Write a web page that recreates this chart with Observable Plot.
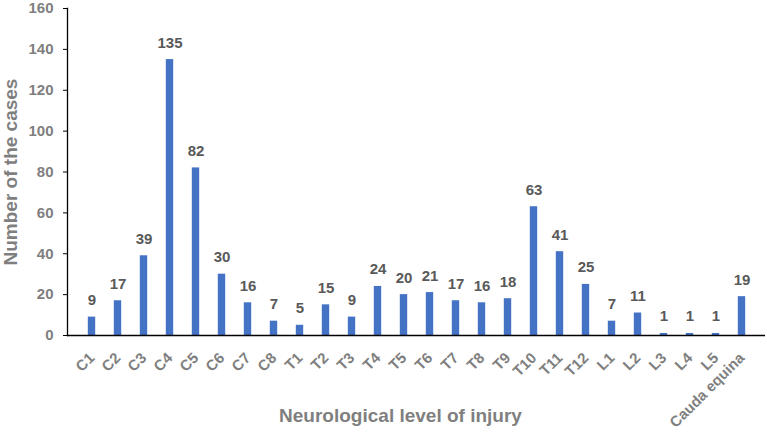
<!DOCTYPE html>
<html>
<head>
<meta charset="utf-8">
<script src="https://cdn.jsdelivr.net/npm/d3@7"></script>
<script src="https://cdn.jsdelivr.net/npm/@observablehq/plot@0.6"></script>
<style>
  html, body { margin: 0; padding: 0; background: #fff; }
</style>
</head>
<body>
<div id="chart"></div>
<script>
const levels = ["C1","C2","C3","C4","C5","C6","C7","C8","T1","T2","T3","T4","T5","T6","T7","T8","T9","T10","T11","T12","L1","L2","L3","L4","L5","Cauda equina"];
const cases = [9,17,39,135,82,30,16,7,5,15,9,24,20,21,17,16,18,63,41,25,7,11,1,1,1,19];
const yTicks = [0,20,40,60,80,100,120,140,160];
const xTitle = "Neurological level of injury";
const yTitle = "Number of the cases";

const data = levels.map((l, i) => ({level: l, value: cases[i]}));
const font = "'Liberation Sans', Arial, sans-serif";

const chart = Plot.plot({
  width: 767,
  height: 434,
  marginLeft: 67,
  marginRight: 2,
  marginTop: 8,
  marginBottom: 99,
  style: {fontFamily: font, fontSize: "15px", fontWeight: "bold", background: "#fff"},
  x: {domain: levels, padding: 0.045, label: null},
  y: {domain: [0, 160], label: null},
  marks: [
    Plot.barY(data, {x: "level", y: "value", fill: "#4472C4", insetLeft: 8.8, insetRight: 8.8}),
    Plot.text(data, {x: "level", y: "value", text: d => String(d.value), dy: -12, lineAnchor: "bottom", fontSize: 15, fontWeight: "bold", fill: "#595959"}),
    Plot.axisY({ticks: yTicks, tickSize: 4, tickPadding: 10, fontSize: 15, fontWeight: "bold", color: "#7f7f7f", stroke: "#000", label: null}),
    Plot.frame({anchor: "left", stroke: "#000", strokeWidth: 1.3}),
    Plot.axisX({tickRotate: -45, tickSize: 0, tickPadding: 20, fontSize: 15, fontWeight: "bold", color: "#7f7f7f", label: null}),
    Plot.ruleY([0], {stroke: "#000", strokeWidth: 1.3}),
    Plot.text([yTitle], {frameAnchor: "left", textAnchor: "middle", rotate: -90, dx: -57, fontSize: 19, fontWeight: "bold", fill: "#7f7f7f"}),
    Plot.text([xTitle], {frameAnchor: "bottom", textAnchor: "middle", dy: 86, dx: -16, fontSize: 19, fontWeight: "bold", fill: "#7f7f7f"})
  ]
});
document.getElementById("chart").appendChild(chart);
</script>
</body>
</html>
